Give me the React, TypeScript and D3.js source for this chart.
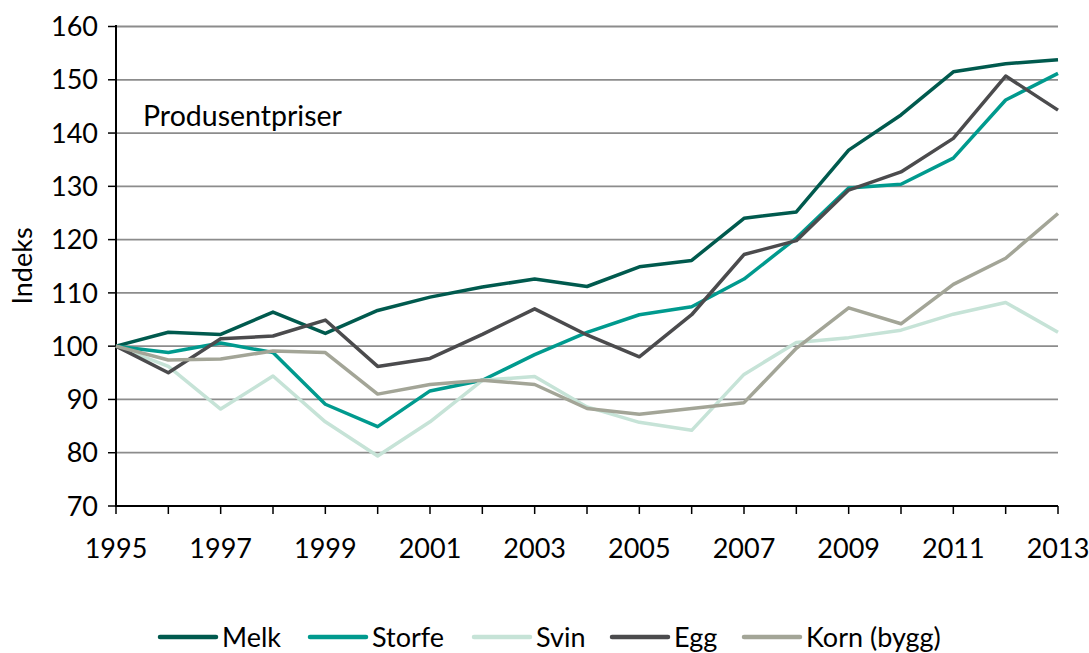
import React from "react";
import * as d3 from "d3";

const years = d3.range(1995, 2014);
const melk = [100, 102.6, 102.2, 106.4, 102.4, 106.7, 109.2, 111.1, 112.6, 111.2, 114.9, 116.1, 124.0, 125.2, 136.8, 143.4, 151.5, 153.0, 153.75];
const storfe = [100, 98.8, 100.6, 98.8, 89.1, 84.9, 91.6, 93.6, 98.4, 102.6, 105.9, 107.4, 112.6, 120.3, 129.7, 130.4, 135.3, 146.2, 151.2];
const svin = [100, 96.2, 88.2, 94.4, 85.8, 79.4, 85.8, 93.6, 94.3, 88.6, 85.7, 84.2, 94.7, 100.7, 101.6, 103.0, 106.0, 108.2, 102.6];
const egg = [100, 95.0, 101.4, 101.9, 104.9, 96.2, 97.7, 102.2, 107.0, 102.1, 98.0, 105.9, 117.2, 119.8, 129.3, 132.7, 139.0, 150.7, 144.3];
const korn = [100, 97.4, 97.6, 99.1, 98.8, 91.0, 92.8, 93.6, 92.8, 88.3, 87.2, 88.3, 89.4, 99.6, 107.2, 104.2, 111.6, 116.5, 124.9];

const seriesNames = ["Melk", "Storfe", "Svin", "Egg", "Korn (bygg)"];
const seriesValues = [melk, storfe, svin, egg, korn];
const seriesColors = ["#005a4e", "#009a8e", "#c6e3d7", "#4b4b4d", "#a3a597"];
const yTicks = [70, 80, 90, 100, 110, 120, 130, 140, 150, 160];
const xLabelYears = [1995, 1997, 1999, 2001, 2003, 2005, 2007, 2009, 2011, 2013];

const FONT = "Lato, 'Open Sans', sans-serif";

export default function App() {
  const W = 1089, H = 653;
  const x = d3.scaleLinear().domain([1995, 2013]).range([116, 1058]);
  const y = d3.scaleLinear().domain([70, 160]).range([506, 26.5]);
  const line = d3.line<number>().x((_, i) => x(years[i])).y((v) => y(v));
  const legendX = [160, 310, 474, 612, 744];
  return (
    <svg width={W} height={H} style={{ position: "absolute", left: 0, top: 0, background: "#fff" }}>
      {yTicks.map((t) => (
        <g key={t}>
          {t > 70 && <line x1={116} x2={1058} y1={y(t)} y2={y(t)} stroke="#8c8c8c" strokeWidth={1.8} />}
          <line x1={108} x2={116} y1={y(t)} y2={y(t)} stroke="#000" strokeWidth={1.5} />
          <text x={98} y={y(t)} dy="0.36em" textAnchor="end" fontFamily={FONT} fontSize={27} fill="#000">{t}</text>
        </g>
      ))}
      {years.map((yr) => (
        <line key={yr} x1={x(yr)} x2={x(yr)} y1={506} y2={514} stroke="#000" strokeWidth={1.5} />
      ))}
      {xLabelYears.map((yr) => (
        <text key={yr} x={x(yr)} y={558} textAnchor="middle" fontFamily={FONT} fontSize={27} fill="#000">{yr}</text>
      ))}
      <line x1={116} x2={116} y1={25} y2={507} stroke="#000" strokeWidth={2} />
      <line x1={115} x2={1058} y1={506} y2={506} stroke="#000" strokeWidth={2} />
      <text transform="translate(32,266) rotate(-90)" textAnchor="middle" fontFamily={FONT} fontSize={27} fill="#000">Indeks</text>
      <text x={143} y={126} fontFamily={FONT} fontSize={28.5} fill="#000">Produsentpriser</text>
      {seriesValues.map((vals, i) => (
        <path key={seriesNames[i]} d={line(vals) || ""} fill="none" stroke={seriesColors[i]} strokeWidth={3.5} strokeLinejoin="round" />
      ))}
      {seriesNames.map((n, i) => (
        <g key={n}>
          <line x1={legendX[i]} x2={legendX[i] + 56} y1={637} y2={637} stroke={seriesColors[i]} strokeWidth={4.5} strokeLinecap="round" />
          <text x={legendX[i] + 62} y={637} dy="0.36em" fontFamily={FONT} fontSize={27} fill="#000">{n}</text>
        </g>
      ))}
    </svg>
  );
}
